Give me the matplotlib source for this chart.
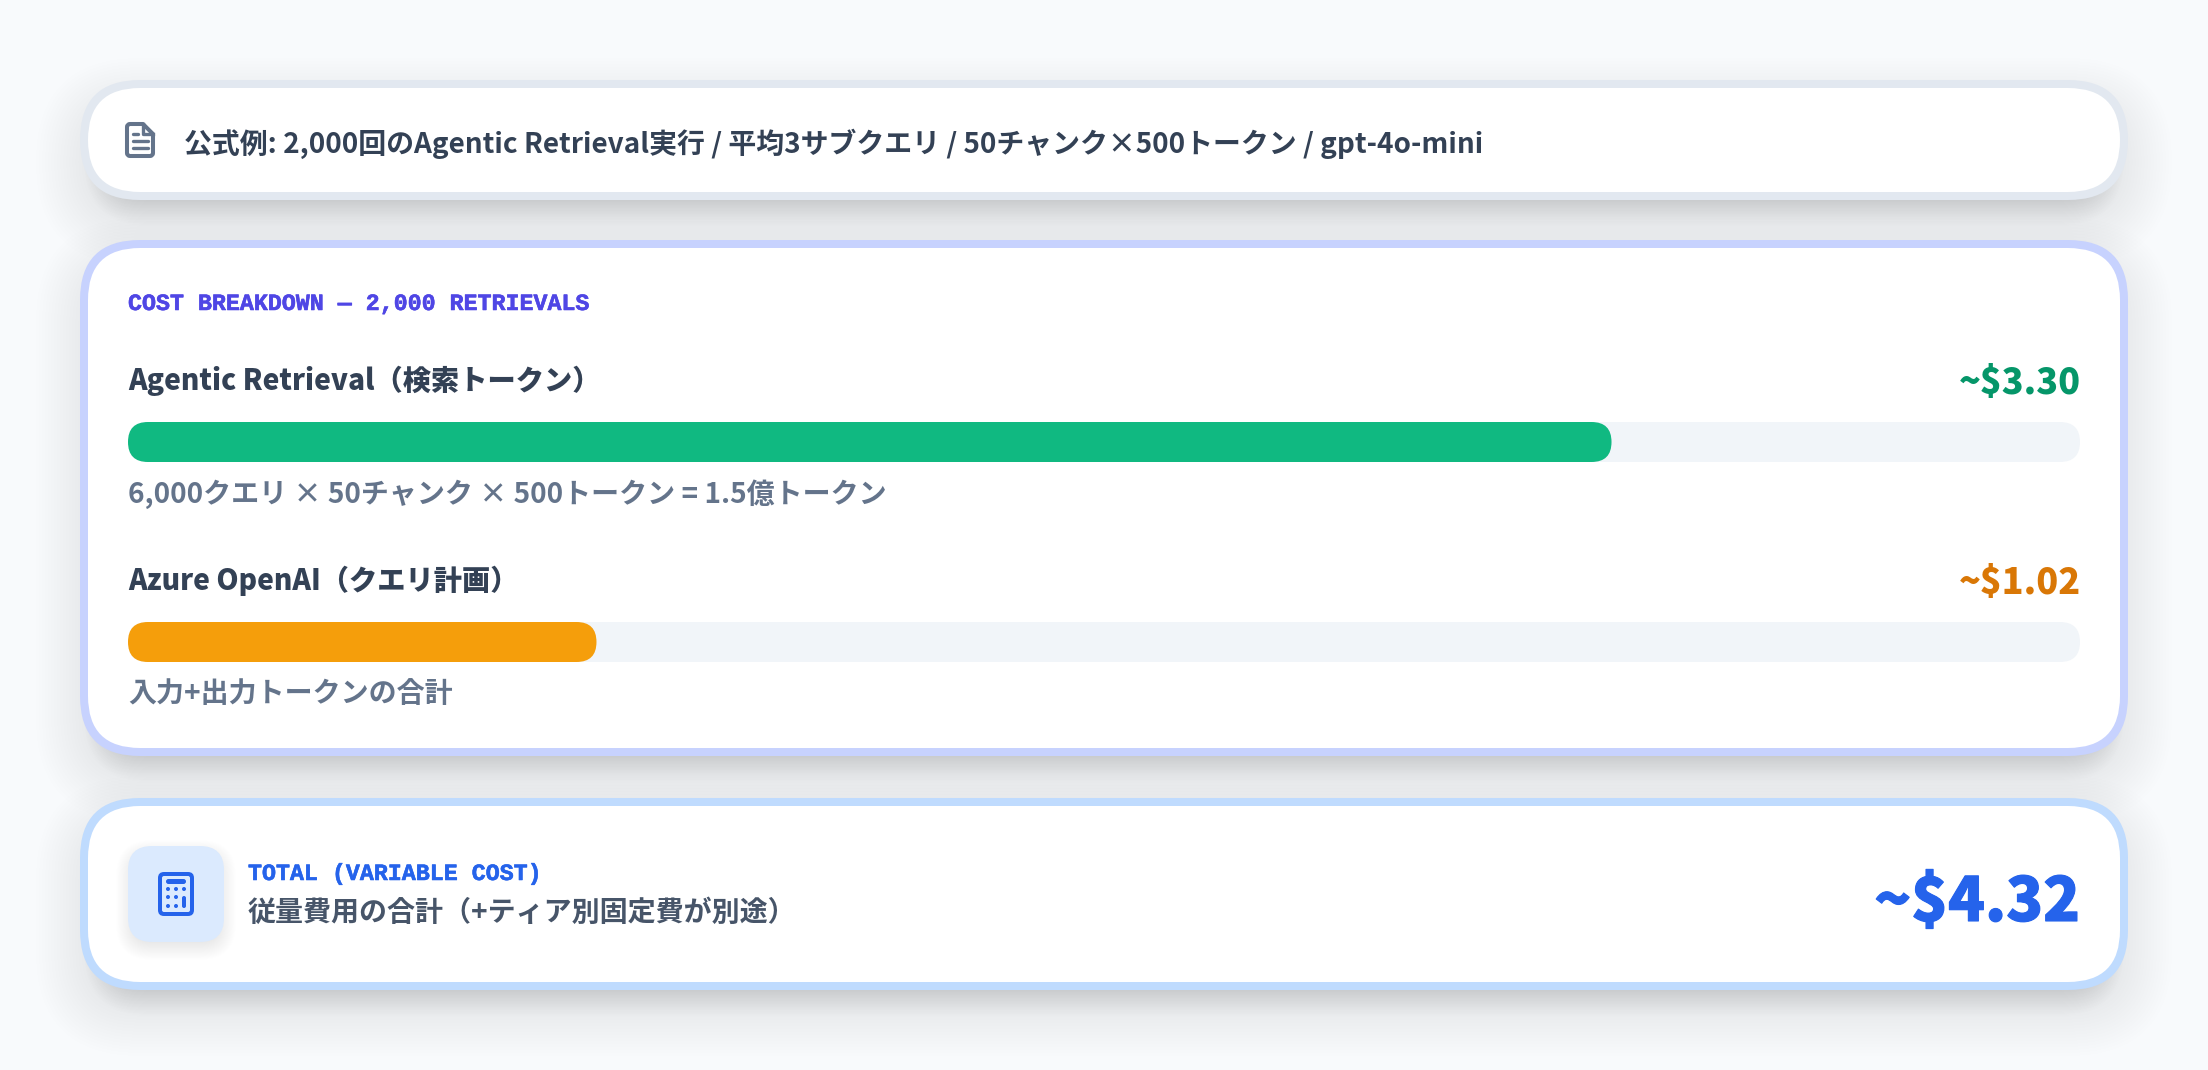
import matplotlib
matplotlib.use("Agg")
import matplotlib.pyplot as plt
import matplotlib.patheffects as pe
from matplotlib.patches import FancyBboxPatch, Circle, PathPatch
from matplotlib.path import Path

plt.rcParams['font.family'] = ['Noto Sans CJK JP', 'DejaVu Sans']

header = "公式例: 2,000回のAgentic Retrieval実行 / 平均3サブクエリ / 50チャンク×500トークン / gpt-4o-mini"
section = "COST BREAKDOWN — 2,000 RETRIEVALS"

names = ["Agentic Retrieval（検索トークン）", "Azure OpenAI（クエリ計画）"]
costs = ["~$3.30", "~$1.02"]
shares = [76, 24]
notes = ["6,000クエリ × 50チャンク × 500トークン = 1.5億トークン", "入力+出力トークンの合計"]

total_label = "TOTAL (VARIABLE COST)"
total_note = "従量費用の合計（+ティア別固定費が別途）"
total_cost = "~$4.32"

BG = "#f8fafc"
DARK = "#334155"
GREY = "#64748b"
BLUE = "#2563eb"
bar_colors = ["#10b981", "#f59e0b"]
cost_colors = ["#059669", "#d97706"]

fig = plt.figure(figsize=(22.08, 10.70), dpi=100, facecolor=BG)
ax = fig.add_axes([0, 0, 1, 1])
ax.set_xlim(0, 2208)
ax.set_ylim(1070, 0)
ax.axis("off")


def px(size):
    return size * 72 / 100


def rbox(x0, y0, x1, y1, r, color, alpha=1, z=2):
    r = min(r, (x1 - x0) / 2, (y1 - y0) / 2)
    p = FancyBboxPatch((x0, y0), x1 - x0, y1 - y0, boxstyle=f"round,pad=0,rounding_size={r}",
                       fc=color, ec="none", alpha=alpha, zorder=z, mutation_aspect=1)
    ax.add_patch(p)


def shadow(x0, y0, x1, y1, r, dy, blur, strength, z=1):
    # stacked translucent boxes, fakes the css box-shadow
    n = 30
    for i in range(n):
        d = blur - 2 * blur * i / (n - 1)
        rbox(x0 - d, y0 + dy - d, x1 + d, y1 + dy + d, max(r + d, 2), "#0f172a", strength / n, z)


def card(x0, y0, x1, y1, border):
    shadow(x0, y0, x1, y1, 60, 22, 44, 0.075)
    shadow(x0 + 20, y0 + 20, x1 - 20, y1, 50, 10, 16, 0.10)
    rbox(x0, y0, x1, y1, 60, border)
    rbox(x0 + 8, y0 + 8, x1 - 8, y1 - 8, 52, "white", z=3)


def label(x, y, s, size, color, ha="left", weight="bold", stroke=0, **kw):
    t = ax.text(x, y, s, fontsize=px(size), color=color, ha=ha, va="center_baseline",
                fontweight=weight, zorder=6, **kw)
    if stroke:
        t.set_path_effects([pe.withStroke(linewidth=stroke, foreground=color)])


card(80, 80, 2128, 200, "#e2e8f0")
card(80, 240, 2128, 756, "#c7d2fe")
card(80, 798, 2128, 990, "#bfdbfe")

# document icon
verts = [(143, 124), (130, 124), (127, 124), (127, 127), (127, 153), (127, 156), (130, 156),
         (150, 156), (153, 156), (153, 153), (153, 134), (143, 124)]
codes = [Path.MOVETO, Path.LINETO, Path.CURVE3, Path.CURVE3, Path.LINETO, Path.CURVE3, Path.CURVE3,
         Path.LINETO, Path.CURVE3, Path.CURVE3, Path.LINETO, Path.CLOSEPOLY]
ax.add_patch(PathPatch(Path(verts, codes), fc="none", ec=GREY, lw=2.9, joinstyle="round", zorder=6))
ax.plot([143, 143, 153], [124, 134, 134], color=GREY, lw=2.4, zorder=6)
for ly, lx in zip([134, 141, 148], [138, 148, 148]):
    ax.plot([133, lx], [ly, ly], color=GREY, lw=2.4, zorder=6, solid_capstyle="round")

label(184, 141, header, 27.9, DARK)
label(128, 301, section, 23.3, "#4f46e5", family="Liberation Mono", stroke=0.4)

track_x0, track_x1 = 128, 2080
tops = [422, 622]
for i in range(2):
    top = tops[i]
    label(128, top - 44, names[i], 28.2, DARK, weight=900)
    label(track_x1 + 1, top - 43, costs[i], 36, cost_colors[i], ha="right", weight=900)
    rbox(track_x0, top, track_x1, top + 40, 20, "#f1f5f9", z=4)
    rbox(track_x0, top, track_x0 + (track_x1 - track_x0) * shares[i] / 100, top + 40, 20, bar_colors[i], z=5)
    label(128, top + 69, notes[i], 28, GREY)

# calculator tile
shadow(128, 846, 224, 942, 24, 6, 12, 0.10, z=3)
rbox(128, 846, 224, 942, 24, "#dbeafe", z=4)
rbox(158, 872, 194, 916, 6, BLUE, z=5)
rbox(162, 876, 190, 912, 2, "#dbeafe", z=5)
rbox(166, 879, 186, 884, 2.5, BLUE, z=6)
for cy in [889, 897, 906]:
    for cx in [168, 176]:
        ax.add_patch(Circle((cx, cy), 2, fc=BLUE, ec="none", zorder=6))
ax.add_patch(Circle((184, 889), 2, fc=BLUE, ec="none", zorder=6))
rbox(182, 896, 186, 908, 2, BLUE, z=6)

label(248, 871, total_label, 23.3, BLUE, family="Liberation Mono", stroke=0.4)
label(248, 910, total_note, 28, "#475569")
label(2080, 897, total_cost, 60.6, BLUE, ha="right", weight=900, stroke=0.8)

fig.savefig("out.png", dpi=100, facecolor=BG)
